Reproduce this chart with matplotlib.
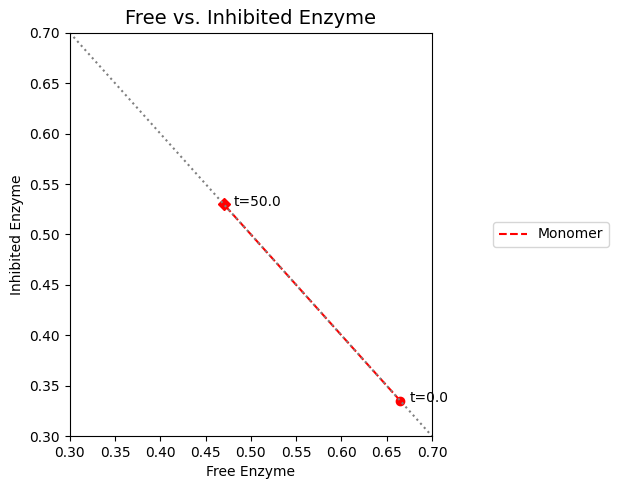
import matplotlib
matplotlib.use("Agg")
import matplotlib.pyplot as plt

# trajectory of free vs inhibited enzyme
free = [0.665, 0.630, 0.600, 0.570, 0.545, 0.522, 0.505, 0.492, 0.482, 0.476, 0.472, 0.470]
inhib = [0.335, 0.370, 0.400, 0.430, 0.455, 0.478, 0.495, 0.508, 0.518, 0.524, 0.528, 0.530]
diag_x = [0.3, 0.7]
diag_y = [0.7, 0.3]
t_start, t_end = 0.0, 50.0

fig = plt.figure(figsize=(6.18, 4.9), dpi=100)
ax = fig.add_axes([0.113, 0.110, 0.586, 0.823])

ax.plot(free, inhib, ls="--", color="red", label="Monomer")
ax.plot(free[0], inhib[0], "o", color="red", ms=6)
ax.plot(free[-1], inhib[-1], "D", color="red", ms=6)
ax.plot(diag_x, diag_y, ls=":", color="gray")
ax.annotate(f"t={t_start}", (free[0], inhib[0]), xytext=(7, -1), textcoords="offset points")
ax.annotate(f"t={t_end}", (free[-1], inhib[-1]), xytext=(7, -1), textcoords="offset points")

ax.set_xlim(0.3, 0.7); ax.set_ylim(0.3, 0.7)
ax.set_xlabel("Free Enzyme"); ax.set_ylabel("Inhibited Enzyme")
ax.set_title("Free vs. Inhibited Enzyme", fontsize=14)
ax.legend(loc="center left", bbox_to_anchor=(1.15, 0.5))
fig.savefig("out.png")
